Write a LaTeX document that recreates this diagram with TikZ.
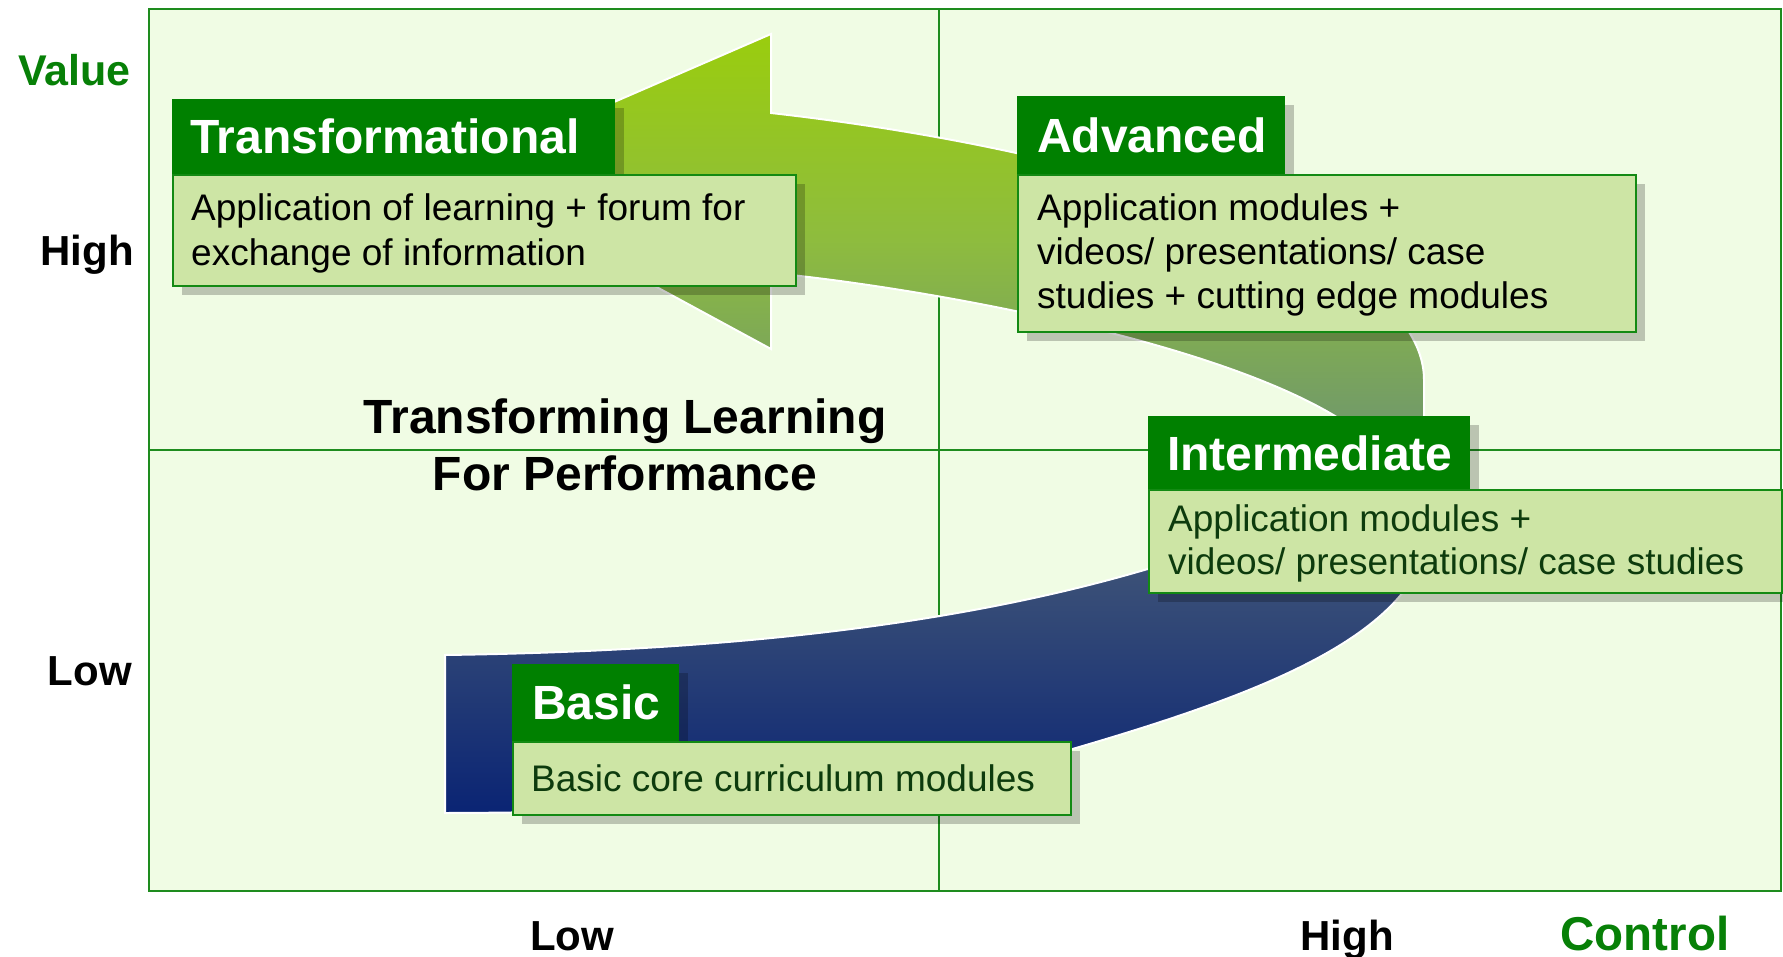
\documentclass[tikz,border=0pt]{standalone}
\usepackage{fontspec}
\setmainfont{Liberation Sans}
\usetikzlibrary{shadows}
\definecolor{bg}{HTML}{F0FCE4}
\definecolor{framec}{HTML}{1E8C1E}
\definecolor{hdr}{HTML}{008000}
\definecolor{bodyfill}{HTML}{CDE5A5}
\definecolor{bodyline}{HTML}{138A13}
\definecolor{axisgreen}{HTML}{078007}
\definecolor{darktext}{HTML}{0D3B0D}
\definecolor{gtop}{HTML}{9ACD0E}
\definecolor{gmid}{HTML}{8EBC3E}
\definecolor{gbot}{HTML}{6E966E}
\definecolor{btop}{HTML}{4A5E78}
\definecolor{bbot}{HTML}{0A2474}
\tikzset{
  boxshadow/.style={drop shadow={shadow xshift=9pt, shadow yshift=-9pt, fill=black, opacity=0.22}},
  hdrbox/.style={fill=hdr, draw=none, inner sep=0, anchor=north west, boxshadow},
  bodybox/.style={fill=bodyfill, draw=bodyline, line width=2, inner sep=0, anchor=north west, boxshadow},
  hdrtext/.style={text=white, font=\fontsize{48}{57}\selectfont\bfseries, inner sep=0, anchor=base west},
  bodytext/.style={font=\fontsize{37}{45}\selectfont, inner sep=0, anchor=base west},
  axislabel/.style={font=\fontsize{42}{50}\selectfont\bfseries, inner sep=0},
  band/.style={draw=white, line width=2},
  gridline/.style={draw=framec, line width=1.5},
}
\begin{document}
\begin{tikzpicture}[x=1pt,y=-1pt]
\useasboundingbox[fill=white] (0,0) rectangle (1783,956);
% frame
\path[fill=bg, draw=framec, line width=1.5] (149,9) rectangle (1781,891);
\path[gridline] (939,9) -- (939,891);
\path[gridline] (149,450) -- (1781,450);
% green band with arrow head
\path[band, top color=gtop, bottom color=gbot, middle color=gmid]
  (771,273) -- (771,349) -- (448,174) -- (771,34) -- (771,113)
  .. controls (1100,150) and (1424,250) .. (1424,380)
  -- (1424,445) -- (1380,445) -- (1335,416)
  .. controls (1200,335) and (900,285) .. (771,273) -- cycle;
% blue band
\path[band, top color=btop, bottom color=bbot]
  (445,655) -- (445,813)
  .. controls (800,812) and (950,785) .. (1069,750)
  .. controls (1220,706) and (1350,660) .. (1404,591)
  .. controls (1420,570) and (1424,540) .. (1424,500)
  -- (1330,500)
  .. controls (1100,610) and (800,650) .. (445,655) -- cycle;
% Transformational
\node[hdrbox, minimum width=443, minimum height=75] (hT) at (172,99) {};
\node[bodybox, minimum width=623, minimum height=111] (bT) at (172,174) {};
\node[hdrtext] (tT) at (190,153) {Transformational};
\node[bodytext] (dT) at (191,220) {\begin{tabular}[t]{@{}l@{}}Application of learning + forum for\\exchange of information\end{tabular}};
% Advanced
\node[hdrbox, minimum width=268, minimum height=78] (hA) at (1017,96) {};
\node[bodybox, minimum width=618, minimum height=157] (bA) at (1017,174) {};
\node[hdrtext] (tA) at (1037,152) {Advanced};
\node[bodytext, font=\fontsize{37}{44}\selectfont] (dA) at (1037,220) {\begin{tabular}[t]{@{}l@{}}Application modules +\\videos/ presentations/ case\\studies + cutting edge modules\end{tabular}};
% Intermediate
\node[hdrbox, minimum width=322, minimum height=73] (hI) at (1148,416) {};
\node[bodybox, minimum width=633, minimum height=103] (bI) at (1148,489) {};
\node[hdrtext] (tI) at (1167,470) {Intermediate};
\node[bodytext, text=darktext, font=\fontsize{37}{43}\selectfont] (dI) at (1168,531) {\begin{tabular}[t]{@{}l@{}}Application modules +\\videos/ presentations/ case studies\end{tabular}};
% Basic
\node[hdrbox, minimum width=167, minimum height=77] (hB) at (512,664) {};
\node[bodybox, minimum width=558, minimum height=73] (bB) at (512,741) {};
\node[hdrtext] (tB) at (532,719) {Basic};
\node[bodytext, text=darktext] (dB) at (531,791) {Basic core curriculum modules};
% title
\node[font=\fontsize{48}{57}\selectfont\bfseries, inner sep=0, anchor=base] (title) at (625,433) {\begin{tabular}[t]{@{}c@{}}Transforming Learning\\For Performance\end{tabular}};
% axis labels
\node[axislabel, font=\fontsize{43}{50}\selectfont\bfseries, text=axisgreen, anchor=base west] (val) at (18,85) {Value};
\node[axislabel, anchor=base east] (yhi) at (134,265) {High};
\node[axislabel, anchor=base east] (ylo) at (132,685) {Low};
\node[axislabel, anchor=base] (xlo) at (572,950) {Low};
\node[axislabel, anchor=base] (xhi) at (1347,950) {High};
\node[axislabel, font=\fontsize{47.5}{56}\selectfont\bfseries, text=axisgreen, anchor=base] (ctl) at (1645,950) {Control};
\end{tikzpicture}
\end{document}
